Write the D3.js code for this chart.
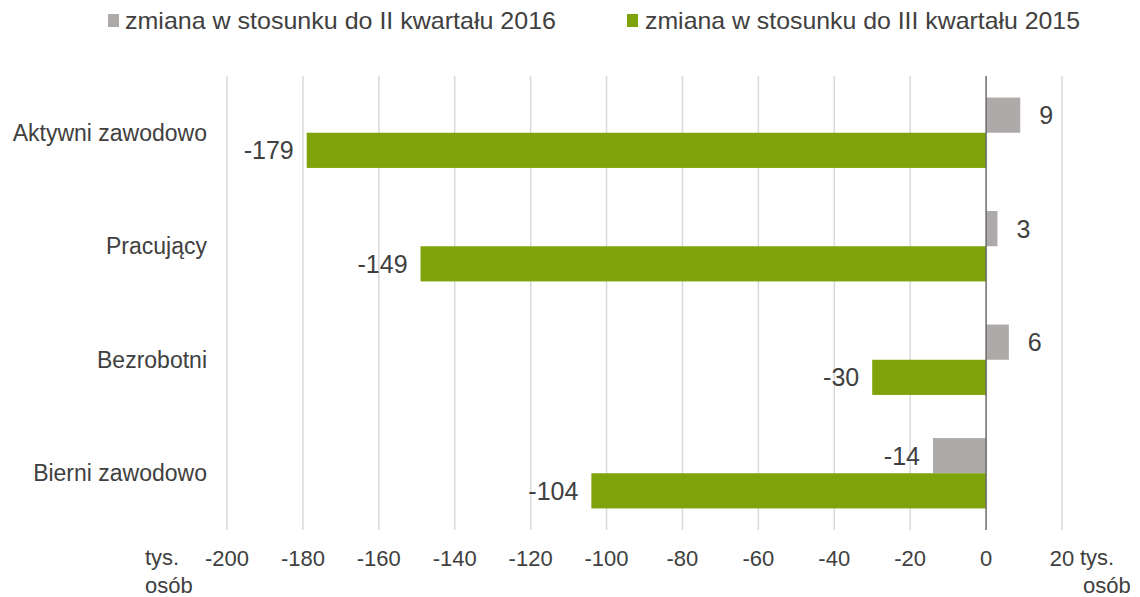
<!DOCTYPE html>
<html>
<head>
<meta charset="utf-8">
<script src="https://cdn.jsdelivr.net/npm/d3@7"></script>
<style>
    body { margin: 0; background: #fff; }
    svg text { font-family: "Liberation Sans", Arial, sans-serif; fill: #404040; }
</style>
</head>
<body>
<div id="chart"></div>
<script>
var categories = ["Aktywni zawodowo", "Pracujący", "Bezrobotni", "Bierni zawodowo"];
var seriesNames = ["zmiana w stosunku do II kwartału 2016", "zmiana w stosunku do III kwartału 2015"];
var vsQ2_2016 = [9, 3, 6, -14];
var vsQ3_2015 = [-179, -149, -30, -104];
var tickValues = [-200, -180, -160, -140, -120, -100, -80, -60, -40, -20, 0, 20];
var colors = ["#aeaaa9", "#7ea30b"];

var W = 1140, H = 597;
var margin = {top: 76, right: 78, bottom: 67, left: 227},
    width = W - margin.left - margin.right,
    height = H - margin.top - margin.bottom;

var svg = d3.select("#chart").append("svg")
    .attr("width", W)
    .attr("height", H);

var g = svg.append("g")
    .attr("transform", "translate(" + margin.left + "," + margin.top + ")");

var x = d3.scaleLinear().domain([-200, 20]).range([0, width]);
var y = d3.scaleBand().domain(categories).range([0, height]).paddingInner(0.38).paddingOuter(0.19);
var ySub = d3.scaleBand().domain([0, 1]).range([0, y.bandwidth()]);

// gridlines
g.append("g")
    .selectAll("line")
    .data(tickValues.filter(function (d) { return d !== 0; }))
    .enter().append("line")
    .attr("x1", function (d) { return x(d); })
    .attr("x2", function (d) { return x(d); })
    .attr("y1", 0)
    .attr("y2", height)
    .attr("stroke", "#d9d9d9")
    .attr("stroke-width", 1.5);

// x tick labels
g.append("g")
    .selectAll("text")
    .data(tickValues)
    .enter().append("text")
    .attr("x", function (d) { return x(d); })
    .attr("y", height + 36)
    .attr("text-anchor", "middle")
    .style("font-size", "22px")
    .text(function (d) { return d; });

// unit labels
svg.append("text")
    .attr("x", 145).attr("y", H - 32)
    .style("font-size", "22px")
    .text("tys.");
svg.append("text")
    .attr("x", 145).attr("y", H - 4)
    .style("font-size", "22px")
    .text("osób");
svg.append("text")
    .attr("x", 1080).attr("y", H - 32)
    .style("font-size", "22px")
    .text("tys.");
svg.append("text")
    .attr("x", 1083).attr("y", H - 4)
    .style("font-size", "22px")
    .text("osób");

// bars
var series = [vsQ2_2016, vsQ3_2015];
series.forEach(function (values, si) {
    var bars = g.append("g").selectAll("g")
        .data(values)
        .enter().append("g");

    bars.append("rect")
        .attr("x", function (d) { return x(Math.min(0, d)); })
        .attr("y", function (d, i) { return y(categories[i]) + ySub(si); })
        .attr("width", function (d) { return Math.abs(x(d) - x(0)); })
        .attr("height", ySub.bandwidth())
        .attr("fill", colors[si]);

    bars.append("text")
        .attr("x", function (d) { return d >= 0 ? x(d) + 19 : x(d) - 13; })
        .attr("y", function (d, i) { return y(categories[i]) + ySub(si) + ySub.bandwidth() / 2; })
        .attr("dy", "0.36em")
        .attr("text-anchor", function (d) { return d >= 0 ? "start" : "end"; })
        .style("font-size", "25px")
        .text(function (d) { return d; });
});

// zero axis line
g.append("line")
    .attr("x1", x(0)).attr("x2", x(0))
    .attr("y1", 0).attr("y2", height)
    .attr("stroke", "#6b6b6b")
    .attr("stroke-width", 1.5);

// category labels
g.append("g")
    .selectAll("text")
    .data(categories)
    .enter().append("text")
    .attr("x", -20)
    .attr("y", function (d) { return y(d) + y.bandwidth() / 2; })
    .attr("dy", "0.35em")
    .attr("text-anchor", "end")
    .style("font-size", "23px")
    .text(function (d) { return d; });

// legend
var legendPos = [{sq: 108, tx: 125, w: 431}, {sq: 627, tx: 645, w: 435}];
seriesNames.forEach(function (name, i) {
    svg.append("rect")
        .attr("x", legendPos[i].sq)
        .attr("y", 14)
        .attr("width", 11)
        .attr("height", 13)
        .attr("fill", colors[i]);
    svg.append("text")
        .attr("x", legendPos[i].tx)
        .attr("y", 29)
        .attr("textLength", legendPos[i].w)
        .attr("lengthAdjust", "spacingAndGlyphs")
        .style("font-size", "24px")
        .text(name);
});
</script>
</body>
</html>
